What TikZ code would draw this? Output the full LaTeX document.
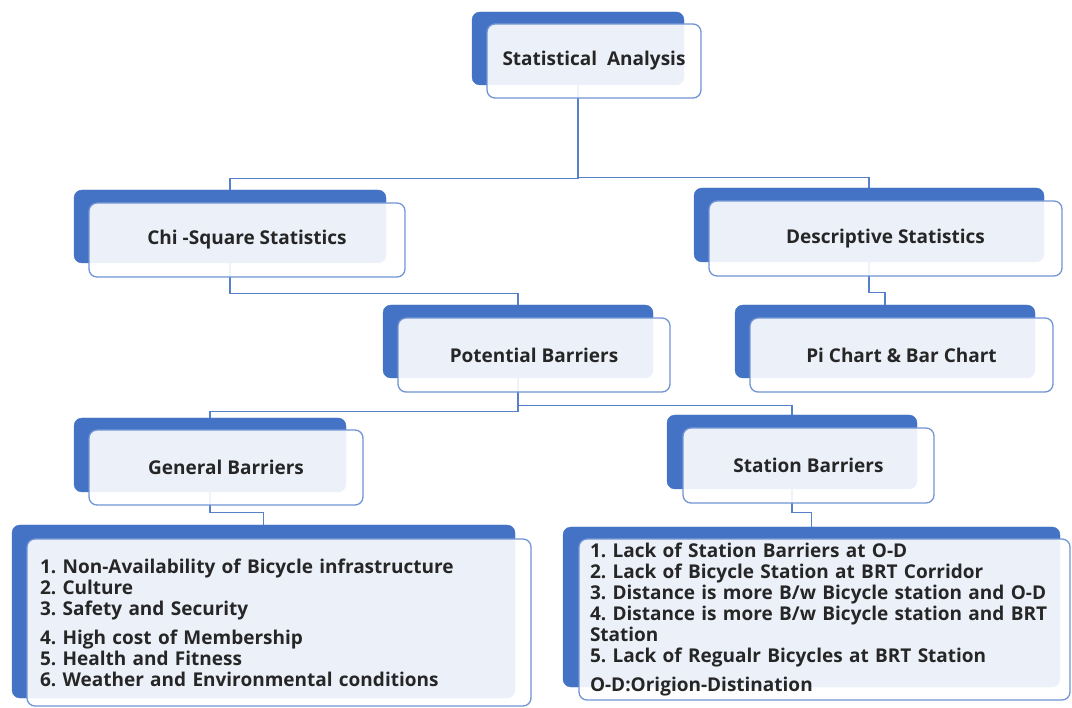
\documentclass[tikz,border=0pt]{standalone}
\usepackage{fontspec}
\setmainfont{Open Sans}
\frenchspacing
\usetikzlibrary{positioning}
\definecolor{boxblue}{HTML}{4472C4}
\definecolor{edgeblue}{HTML}{7094D4}
\definecolor{txtgray}{HTML}{262626}

\begin{document}
\begin{tikzpicture}[x=1pt,y=-1pt,
  backbox/.style={fill=boxblue,draw=boxblue,rounded corners=8pt,minimum height=73pt,inner sep=0pt},
  frontbox/.style={draw=edgeblue,line width=1.3pt,fill=white,fill opacity=0.9,text opacity=1,rounded corners=8pt,minimum height=74pt,inner sep=0pt,align=center,text=txtgray,font=\fontsize{19}{21}\selectfont\bfseries},
  listbox/.style={frontbox,align=left},
  link/.style={draw=boxblue!90,line width=1.3pt}]
\useasboundingbox (0,0) rectangle (1072,708);
% back layer
\node[backbox,minimum width=212pt] (sab) at (578,48.5) {};
\node[backbox,minimum width=312pt] (chib) at (230,226.5) {};
\node[backbox,minimum width=350pt,minimum height=74pt] (desb) at (869,225) {};
\node[backbox,minimum width=270pt] (potb) at (518,341.5) {};
\node[backbox,minimum width=300pt] (pib) at (885,341.5) {};
\node[backbox,minimum width=272pt,minimum height=74pt] (genb) at (210,455) {};
\node[backbox,minimum width=250pt,minimum height=74pt] (stab) at (792,452) {};
\node[backbox,minimum width=503pt,minimum height=173pt] (glb) at (263.5,611.5) {};
\node[backbox,minimum width=497pt,minimum height=160pt] (slb) at (811.5,607) {};
% connectors
\draw[link] (sab.south) -- ++(0,93) -| (chib.north);
\draw[link] (sab.south) -- ++(0,92) -| (desb.north);
\draw[link] (chib.south) -- ++(0,30) -| (potb.north);
\draw[link] (desb.south) -- ++(0,30) -| (pib.north);
\draw[link] (potb.south) -- ++(0,33) -| (genb.north);
\draw[link] (potb.south) -- ++(0,27) -| (stab.north);
\draw[link] (genb.south) -- ++(0,20) -| (glb.north);
\draw[link] (stab.south) -- ++(0,23) -| (slb.north);
% front layer
\node[frontbox,minimum width=214pt] (saf) at (594,61) {Statistical\ \ Analysis};
\node[frontbox,minimum width=316pt] (chif) at (247,240) {Chi -Square Statistics};
\node[frontbox,minimum width=353pt,minimum height=75pt] (desf) at (885.5,238.5) {Descriptive Statistics};
\node[frontbox,minimum width=272pt] (potf) at (534,355) {Potential Barriers};
\node[frontbox,minimum width=303pt] (pif) at (901.5,355) {Pi Chart \& Bar Chart};
\node[frontbox,minimum width=274pt,minimum height=75pt] (genf) at (226,467.5) {General Barriers};
\node[frontbox,minimum width=251pt,minimum height=75pt] (staf) at (808.5,465.5) {Station Barriers};
\node[listbox,minimum width=504pt,minimum height=167pt,text width=478pt] (glf) at (279,622.5) {1. Non-Availability of Bicycle infrastructure\\
2. Culture\\
3. Safety and Security\\[8pt]
4. High cost of Membership\\
5. Health and Fitness\\
6. Weather and Environmental conditions};
\node[listbox,minimum width=491pt,minimum height=161pt,text width=469pt] (slf) at (824.5,619.5) {1. Lack of Station Barriers at O-D\\
2. Lack of Bicycle Station at BRT Corridor\\
3. Distance is more B/w Bicycle station and O-D\\
4. Distance is more B/w Bicycle station and BRT\\
Station\\
5. Lack of Regualr Bicycles at BRT Station\\[8pt]
O-D:Origion-Distination};
\end{tikzpicture}
\end{document}
